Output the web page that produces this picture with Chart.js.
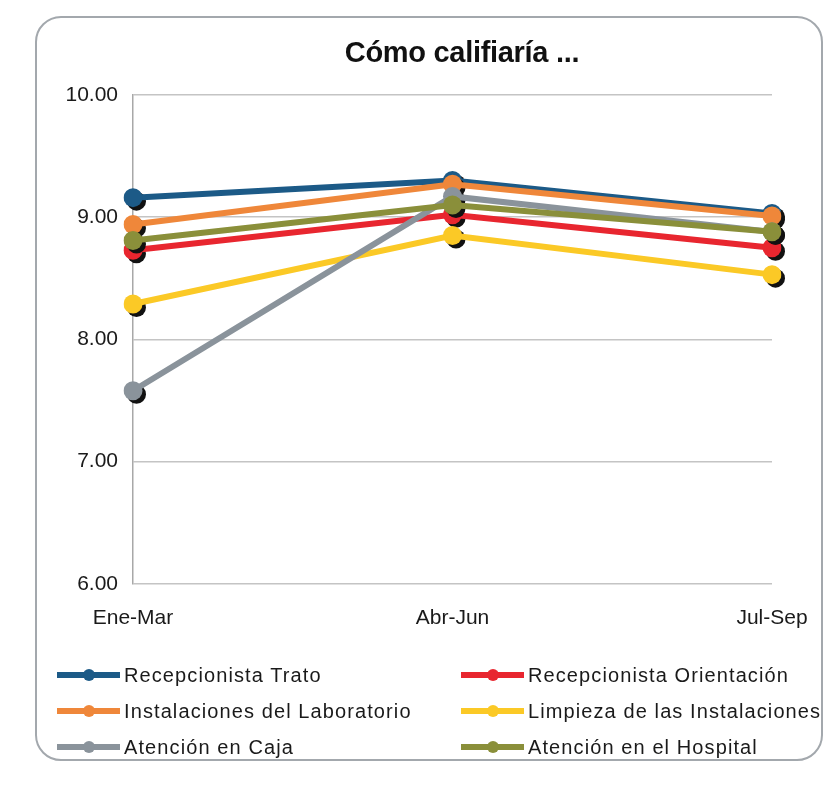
<!DOCTYPE html>
<html>
<head>
<meta charset="utf-8">
<script src="https://cdn.jsdelivr.net/npm/chart.js@4/dist/chart.umd.min.js"></script>
<style>
  html, body { margin: 0; padding: 0; background: #fff; }
  #wrap { position: relative; width: 837px; height: 786px; overflow: hidden; }
  #frame {
    position: absolute; left: 35px; top: 16px; width: 788px; height: 745px;
    border: 2px solid #a3a8ad; border-radius: 26px; box-sizing: border-box;
  }
  canvas { position: absolute; left: 0; top: 0; }
  #title {
    position: absolute; left: 262px; width: 400px; top: 35px; text-align: center;
    font-family: "Liberation Sans", Arial, sans-serif; font-size: 29px; font-weight: bold;
    color: #111; line-height: 34px; letter-spacing: -0.3px;
  }
  .legend-item {
    position: absolute; height: 20px; display: flex; align-items: center;
    font-family: "Liberation Sans", Arial, sans-serif; font-size: 20px;
    letter-spacing: 1.1px; color: #1a1a1a; white-space: nowrap;
  }
  .swatch { position: relative; width: 63px; height: 20px; margin-right: 4px; }
  .swatch .ln { position: absolute; left: 0; right: 0; top: 7px; height: 6px; }
  .swatch .dt { position: absolute; left: 26px; top: 4px; width: 12px; height: 12px; border-radius: 50%; }
</style>
</head>
<body>
<div id="wrap">
  <div id="frame"></div>
  <canvas id="chart" width="837" height="786"></canvas>
  <div id="title">Cómo califiaría ...</div>
  <div id="legend"></div>
</div>
<script>
const periods = ["Ene-Mar", "Abr-Jun", "Jul-Sep"];
const seriesNames = [
  "Recepcionista Trato",
  "Recepcionista Orientación",
  "Instalaciones del Laboratorio",
  "Limpieza de las Instalaciones",
  "Atención en Caja",
  "Atención en el Hospital"
];
const trato = [9.16, 9.30, 9.03];
const orientacion = [8.73, 9.02, 8.75];
const laboratorio = [8.94, 9.27, 9.01];
const limpieza = [8.29, 8.85, 8.53];
const caja = [7.58, 9.17, 8.88];
const hospital = [8.81, 9.10, 8.88];
const seriesColors = ["#1c5a87", "#e8262f", "#ef873a", "#fbc926", "#8a939b", "#8a8f3a"];
const yTicks = [6, 7, 8, 9, 10];

const seriesValues = [trato, orientacion, laboratorio, limpieza, caja, hospital];

// black drop shadow under each marker, drawn before the dataset itself
const markerShadow = {
  id: "markerShadow",
  beforeDatasetDraw(chart, args) {
    const ctx = chart.ctx;
    ctx.save();
    ctx.fillStyle = "#111";
    args.meta.data.forEach((pt) => {
      ctx.beginPath();
      ctx.arc(pt.x + 3.5, pt.y + 3.5, 9.5, 0, Math.PI * 2);
      ctx.fill();
    });
    ctx.restore();
  }
};

const datasets = seriesNames.map((name, i) => ({
  label: name,
  data: seriesValues[i],
  borderColor: seriesColors[i],
  backgroundColor: seriesColors[i],
  borderWidth: 6,
  pointRadius: 9.5,
  pointBorderWidth: 0,
  pointBackgroundColor: seriesColors[i],
  tension: 0,
  order: seriesNames.length - i
}));

new Chart(document.getElementById("chart"), {
  type: "line",
  data: { labels: periods, datasets },
  options: {
    responsive: false,
    animation: false,
    layout: { padding: { left: 0, right: 65, top: 95, bottom: 133 } },
    plugins: {
      legend: { display: false },
      tooltip: { enabled: false },
      title: { display: false }
    },
    scales: {
      x: {
        offset: false,
        grid: { display: false, drawTicks: false },
        border: { display: false },
        ticks: {
          color: "#1a1a1a",
          padding: 22,
          font: { family: "'Liberation Sans', Arial, sans-serif", size: 21 }
        }
      },
      y: {
        min: 6,
        max: 10,
        afterFit(scale) { scale.width = 133; },
        afterBuildTicks(scale) { scale.ticks = yTicks.map((v) => ({ value: v })); },
        grid: { color: "#c4c4c4", lineWidth: 1.5, drawTicks: false },
        border: { color: "#a8a8a8", width: 1.5 },
        ticks: {
          color: "#1a1a1a",
          padding: 15,
          font: { family: "'Liberation Sans', Arial, sans-serif", size: 21 },
          callback: (v) => Number(v).toFixed(2)
        }
      }
    }
  },
  plugins: [markerShadow]
});

// html legend, two columns in row order
const legendBox = document.getElementById("legend");
const legendRows = [675, 711, 747];
const legendCols = [57, 461];
seriesNames.forEach((name, i) => {
  const item = document.createElement("div");
  item.className = "legend-item";
  item.style.left = legendCols[i % 2] + "px";
  item.style.top = (legendRows[Math.floor(i / 2)] - 10) + "px";
  item.innerHTML =
    '<span class="swatch"><span class="ln" style="background:' + seriesColors[i] + '"></span>' +
    '<span class="dt" style="background:' + seriesColors[i] + '"></span></span>' +
    '<span>' + name + '</span>';
  legendBox.appendChild(item);
});
</script>
</body>
</html>
